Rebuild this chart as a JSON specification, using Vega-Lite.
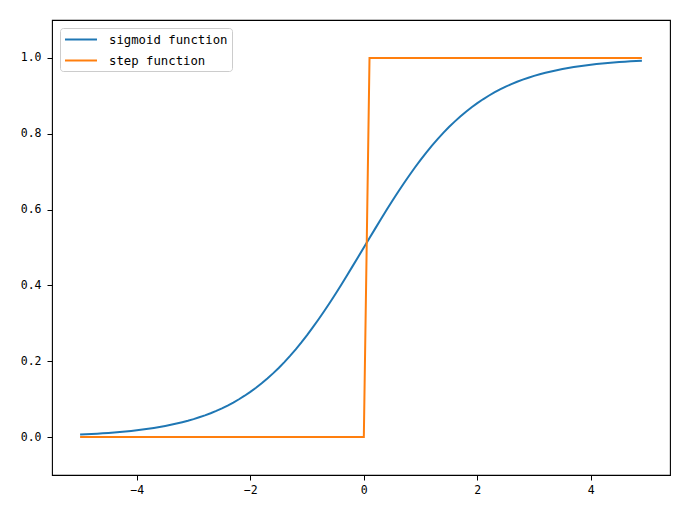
{
  "$schema": "https://vega.github.io/schema/vega-lite/v6.json",
  "width": 618,
  "height": 455,
  "autosize": {"type": "none"},
  "padding": {"left": 52, "top": 20, "right": 18, "bottom": 43},
  "background": "white",
  "data": {"values": [
    {"x": -5.0, "sigmoid": 0.0067, "step": 0},
    {"x": -4.9, "sigmoid": 0.0074, "step": 0},
    {"x": -4.8, "sigmoid": 0.0082, "step": 0},
    {"x": -4.7, "sigmoid": 0.0090, "step": 0},
    {"x": -4.6, "sigmoid": 0.0100, "step": 0},
    {"x": -4.5, "sigmoid": 0.0110, "step": 0},
    {"x": -4.4, "sigmoid": 0.0121, "step": 0},
    {"x": -4.3, "sigmoid": 0.0134, "step": 0},
    {"x": -4.2, "sigmoid": 0.0148, "step": 0},
    {"x": -4.1, "sigmoid": 0.0163, "step": 0},
    {"x": -4.0, "sigmoid": 0.0180, "step": 0},
    {"x": -3.9, "sigmoid": 0.0198, "step": 0},
    {"x": -3.8, "sigmoid": 0.0219, "step": 0},
    {"x": -3.7, "sigmoid": 0.0241, "step": 0},
    {"x": -3.6, "sigmoid": 0.0266, "step": 0},
    {"x": -3.5, "sigmoid": 0.0293, "step": 0},
    {"x": -3.4, "sigmoid": 0.0323, "step": 0},
    {"x": -3.3, "sigmoid": 0.0356, "step": 0},
    {"x": -3.2, "sigmoid": 0.0392, "step": 0},
    {"x": -3.1, "sigmoid": 0.0431, "step": 0},
    {"x": -3.0, "sigmoid": 0.0474, "step": 0},
    {"x": -2.9, "sigmoid": 0.0522, "step": 0},
    {"x": -2.8, "sigmoid": 0.0573, "step": 0},
    {"x": -2.7, "sigmoid": 0.0630, "step": 0},
    {"x": -2.6, "sigmoid": 0.0691, "step": 0},
    {"x": -2.5, "sigmoid": 0.0759, "step": 0},
    {"x": -2.4, "sigmoid": 0.0832, "step": 0},
    {"x": -2.3, "sigmoid": 0.0911, "step": 0},
    {"x": -2.2, "sigmoid": 0.0998, "step": 0},
    {"x": -2.1, "sigmoid": 0.1091, "step": 0},
    {"x": -2.0, "sigmoid": 0.1192, "step": 0},
    {"x": -1.9, "sigmoid": 0.1301, "step": 0},
    {"x": -1.8, "sigmoid": 0.1419, "step": 0},
    {"x": -1.7, "sigmoid": 0.1545, "step": 0},
    {"x": -1.6, "sigmoid": 0.1680, "step": 0},
    {"x": -1.5, "sigmoid": 0.1824, "step": 0},
    {"x": -1.4, "sigmoid": 0.1978, "step": 0},
    {"x": -1.3, "sigmoid": 0.2142, "step": 0},
    {"x": -1.2, "sigmoid": 0.2315, "step": 0},
    {"x": -1.1, "sigmoid": 0.2497, "step": 0},
    {"x": -1.0, "sigmoid": 0.2689, "step": 0},
    {"x": -0.9, "sigmoid": 0.2891, "step": 0},
    {"x": -0.8, "sigmoid": 0.3100, "step": 0},
    {"x": -0.7, "sigmoid": 0.3318, "step": 0},
    {"x": -0.6, "sigmoid": 0.3543, "step": 0},
    {"x": -0.5, "sigmoid": 0.3775, "step": 0},
    {"x": -0.4, "sigmoid": 0.4013, "step": 0},
    {"x": -0.3, "sigmoid": 0.4256, "step": 0},
    {"x": -0.2, "sigmoid": 0.4502, "step": 0},
    {"x": -0.1, "sigmoid": 0.4750, "step": 0},
    {"x": 0.0, "sigmoid": 0.5000, "step": 0},
    {"x": 0.1, "sigmoid": 0.5250, "step": 1},
    {"x": 0.2, "sigmoid": 0.5498, "step": 1},
    {"x": 0.3, "sigmoid": 0.5744, "step": 1},
    {"x": 0.4, "sigmoid": 0.5987, "step": 1},
    {"x": 0.5, "sigmoid": 0.6225, "step": 1},
    {"x": 0.6, "sigmoid": 0.6457, "step": 1},
    {"x": 0.7, "sigmoid": 0.6682, "step": 1},
    {"x": 0.8, "sigmoid": 0.6900, "step": 1},
    {"x": 0.9, "sigmoid": 0.7109, "step": 1},
    {"x": 1.0, "sigmoid": 0.7311, "step": 1},
    {"x": 1.1, "sigmoid": 0.7503, "step": 1},
    {"x": 1.2, "sigmoid": 0.7685, "step": 1},
    {"x": 1.3, "sigmoid": 0.7858, "step": 1},
    {"x": 1.4, "sigmoid": 0.8022, "step": 1},
    {"x": 1.5, "sigmoid": 0.8176, "step": 1},
    {"x": 1.6, "sigmoid": 0.8320, "step": 1},
    {"x": 1.7, "sigmoid": 0.8455, "step": 1},
    {"x": 1.8, "sigmoid": 0.8581, "step": 1},
    {"x": 1.9, "sigmoid": 0.8699, "step": 1},
    {"x": 2.0, "sigmoid": 0.8808, "step": 1},
    {"x": 2.1, "sigmoid": 0.8909, "step": 1},
    {"x": 2.2, "sigmoid": 0.9002, "step": 1},
    {"x": 2.3, "sigmoid": 0.9089, "step": 1},
    {"x": 2.4, "sigmoid": 0.9168, "step": 1},
    {"x": 2.5, "sigmoid": 0.9241, "step": 1},
    {"x": 2.6, "sigmoid": 0.9309, "step": 1},
    {"x": 2.7, "sigmoid": 0.9370, "step": 1},
    {"x": 2.8, "sigmoid": 0.9427, "step": 1},
    {"x": 2.9, "sigmoid": 0.9478, "step": 1},
    {"x": 3.0, "sigmoid": 0.9526, "step": 1},
    {"x": 3.1, "sigmoid": 0.9569, "step": 1},
    {"x": 3.2, "sigmoid": 0.9608, "step": 1},
    {"x": 3.3, "sigmoid": 0.9644, "step": 1},
    {"x": 3.4, "sigmoid": 0.9677, "step": 1},
    {"x": 3.5, "sigmoid": 0.9707, "step": 1},
    {"x": 3.6, "sigmoid": 0.9734, "step": 1},
    {"x": 3.7, "sigmoid": 0.9759, "step": 1},
    {"x": 3.8, "sigmoid": 0.9781, "step": 1},
    {"x": 3.9, "sigmoid": 0.9802, "step": 1},
    {"x": 4.0, "sigmoid": 0.9820, "step": 1},
    {"x": 4.1, "sigmoid": 0.9837, "step": 1},
    {"x": 4.2, "sigmoid": 0.9852, "step": 1},
    {"x": 4.3, "sigmoid": 0.9866, "step": 1},
    {"x": 4.4, "sigmoid": 0.9879, "step": 1},
    {"x": 4.5, "sigmoid": 0.9890, "step": 1},
    {"x": 4.6, "sigmoid": 0.9900, "step": 1},
    {"x": 4.7, "sigmoid": 0.9910, "step": 1},
    {"x": 4.8, "sigmoid": 0.9918, "step": 1},
    {"x": 4.9, "sigmoid": 0.9926, "step": 1}
  ]},
  "transform": [
    {"fold": ["sigmoid", "step"], "as": ["key", "y"]},
    {"lookup": "key", "from": {"data": {"values": [
      {"key": "sigmoid", "series": "sigmoid function"},
      {"key": "step", "series": "step function"}
    ]}, "key": "key", "fields": ["series"]}}
  ],
  "mark": {"type": "line", "strokeWidth": 2, "clip": true},
  "encoding": {
    "x": {"field": "x", "type": "quantitative",
      "scale": {"domain": [-5.495, 5.395], "nice": false, "zero": false},
      "axis": {"values": [-4, -2, 0, 2, 4], "format": "d", "title": null}},
    "y": {"field": "y", "type": "quantitative",
      "scale": {"domain": [-0.1, 1.1], "nice": false, "zero": false},
      "axis": {"values": [0, 0.2, 0.4, 0.6, 0.8, 1.0], "format": ".1f", "title": null}},
    "color": {"field": "series", "type": "nominal",
      "scale": {"domain": ["sigmoid function", "step function"], "range": ["#1f77b4", "#ff7f0e"]},
      "legend": {"title": null, "orient": "none", "legendX": 8, "legendY": 8,
        "symbolType": "M-1,0H3.92", "symbolSize": 169, "symbolStrokeWidth": 2,
        "labelOffset": 30, "rowPadding": 7, "padding": 4,
        "fillColor": "white", "strokeColor": "#cccccc", "cornerRadius": 3,
        "labelFont": "DejaVu Sans Mono", "labelFontSize": 12.3, "labelColor": "black"}},
    "detail": {"field": "key"}
  },
  "config": {
    "view": {"stroke": "black", "strokeWidth": 1.1},
    "axis": {"grid": false, "domain": false, "tickColor": "black", "tickSize": 5, "tickWidth": 1,
      "labelFont": "DejaVu Sans Mono", "labelFontSize": 11.5, "labelColor": "black", "labelPadding": 4},
    "axisY": {"labelPadding": 6}
  }
}
